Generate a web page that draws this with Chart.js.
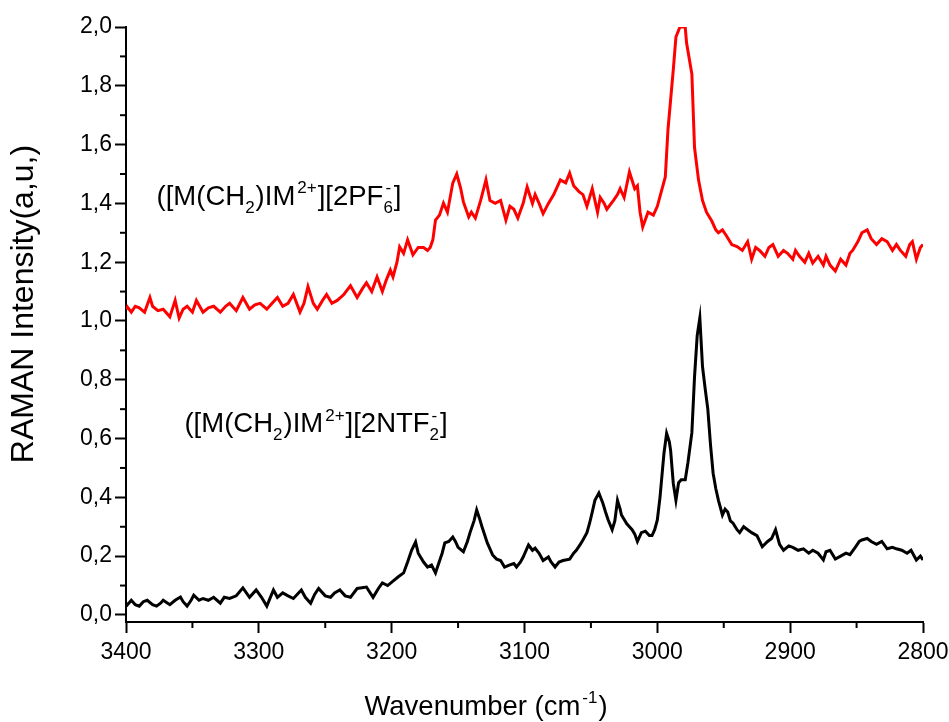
<!DOCTYPE html>
<html>
<head>
<meta charset="utf-8">
<script src="https://cdn.jsdelivr.net/npm/chart.js@4.4.0/dist/chart.umd.min.js"></script>
<style>
body { margin: 0; background: #fff; }
#wrap { width: 949px; height: 722px; position: relative; }
</style>
</head>
<body>
<div id="wrap"><canvas id="raman"></canvas></div>
<script>
// red spectrum: [2PF6-] salt
const redWn = [3400,3399,3396,3393,3390,3386,3382,3380,3376,3372,3367,3363,3360,3357,3354,3350,3347,3342,3338,3334,
  3329,3325,3322,3317,3312,3307,3303,3299,3294,3290,3286,3282,3278,3274,3269,3266,3263,3259,3256,3252,
  3249,3245,3241,3236,3231,3226,3222,3219,3215,3211,3207,3204,3201,3199,3196,3194,3191,3188,3184,3180,
  3176,3173,3171,3169,3167,3164,3161,3158,3154,3151,3148,3146,3142,3140,3137,3133,3129,3126,3122,3118,
  3114,3111,3108,3105,3101,3098,3094,3092,3089,3086,3082,3078,3073,3069,3066,3063,3059,3056,3053,3049,
  3045,3043,3040,3038,3033,3030,3028,3025,3021,3017,3015,3013,3011,3007,3003,3000,2997,2994,2992,2988,
  2986,2983,2979,2978,2974,2972,2969,2966,2963,2959,2956,2954,2951,2948,2944,2940,2936,2932,2929,2926,
  2923,2919,2916,2913,2909,2905,2902,2898,2896,2893,2889,2886,2883,2879,2875,2873,2870,2866,2862,2858,
  2855,2853,2849,2846,2842,2839,2835,2831,2827,2823,2820,2817,2813,2810,2808,2805,2802,2800];
const redInt = [1.04,1.048,1.03,1.05,1.045,1.03,1.08,1.05,1.035,1.04,1.014,1.07,1.01,1.04,1.05,1.03,1.07,1.03,1.045,1.05,
  1.03,1.05,1.06,1.035,1.08,1.04,1.055,1.06,1.04,1.06,1.08,1.05,1.06,1.09,1.03,1.06,1.117,1.06,1.04,1.07,
  1.09,1.06,1.07,1.09,1.12,1.08,1.11,1.13,1.10,1.15,1.10,1.14,1.173,1.15,1.20,1.252,1.23,1.276,1.225,1.25,
  1.25,1.24,1.25,1.276,1.343,1.36,1.401,1.37,1.469,1.50,1.45,1.405,1.354,1.37,1.35,1.41,1.48,1.41,1.40,1.41,
  1.343,1.39,1.38,1.35,1.40,1.456,1.40,1.43,1.40,1.365,1.40,1.43,1.48,1.47,1.503,1.46,1.44,1.43,1.39,1.45,
  1.37,1.42,1.40,1.38,1.41,1.43,1.45,1.42,1.507,1.45,1.46,1.37,1.32,1.37,1.36,1.39,1.44,1.49,1.65,1.854,
  1.966,2.0,2.0,1.946,1.84,1.59,1.48,1.41,1.37,1.34,1.31,1.30,1.31,1.29,1.26,1.253,1.24,1.27,1.21,1.25,
  1.24,1.22,1.25,1.26,1.22,1.24,1.23,1.21,1.24,1.22,1.20,1.23,1.197,1.22,1.19,1.22,1.19,1.17,1.21,1.19,
  1.23,1.24,1.27,1.30,1.31,1.28,1.26,1.28,1.27,1.24,1.26,1.24,1.22,1.26,1.27,1.21,1.25,1.26];

// black spectrum: [2NTF2-] salt
const blackWn = [3400,3399,3396,3393,3390,3387,3384,3380,3377,3374,3372,3367,3363,3359,3357,3354,3351,3349,3345,3342,
  3338,3334,3329,3326,3322,3317,3312,3307,3302,3298,3294,3289,3286,3282,3278,3274,3268,3265,3261,3258,
  3255,3250,3246,3243,3239,3235,3231,3226,3219,3214,3210,3207,3203,3199,3195,3191,3188,3185,3182,3180,
  3176,3173,3170,3167,3165,3162,3160,3157,3154,3152,3150,3146,3143,3141,3138,3136,3134,3132,3128,3124,
  3121,3118,3115,3111,3108,3106,3103,3101,3097,3094,3092,3089,3086,3082,3080,3077,3074,3071,3066,3063,
  3061,3058,3056,3053,3051,3049,3047,3044,3041,3039,3037,3034,3032,3030,3028,3027,3023,3019,3017,3015,
  3012,3009,3006,3004,3002,3000,2998,2996,2995,2993,2991,2990,2988,2986,2984,2982,2979,2977,2974,2972,
  2970,2968,2966,2964,2962,2960,2958,2956,2954,2951,2949,2947,2945,2943,2940,2938,2935,2932,2929,2925,
  2921,2917,2914,2911,2908,2905,2901,2898,2894,2890,2886,2883,2879,2875,2873,2870,2866,2862,2858,2855,
  2851,2848,2846,2842,2839,2835,2831,2827,2823,2820,2816,2812,2809,2805,2802,2800];
const blackInt = [0.04,0.034,0.05,0.035,0.03,0.045,0.05,0.035,0.03,0.04,0.05,0.035,0.05,0.061,0.045,0.03,0.05,0.067,0.05,0.056,
  0.05,0.06,0.04,0.06,0.056,0.065,0.092,0.06,0.085,0.06,0.03,0.085,0.06,0.075,0.065,0.056,0.085,0.06,0.04,0.07,
  0.09,0.065,0.06,0.075,0.085,0.065,0.06,0.09,0.095,0.06,0.09,0.109,0.10,0.115,0.13,0.143,0.18,0.22,0.248,0.21,
  0.18,0.163,0.17,0.143,0.17,0.21,0.245,0.25,0.265,0.25,0.23,0.215,0.25,0.28,0.32,0.357,0.33,0.30,0.245,0.204,
  0.19,0.185,0.163,0.17,0.175,0.163,0.18,0.197,0.238,0.22,0.227,0.21,0.185,0.197,0.18,0.163,0.18,0.185,0.19,0.21,
  0.22,0.24,0.255,0.28,0.312,0.35,0.39,0.415,0.38,0.35,0.323,0.29,0.32,0.39,0.36,0.34,0.31,0.29,0.275,0.25,
  0.28,0.285,0.27,0.27,0.29,0.323,0.40,0.50,0.55,0.618,0.59,0.56,0.448,0.39,0.45,0.46,0.46,0.517,0.62,0.81,
  0.95,1.01,0.845,0.77,0.70,0.58,0.482,0.43,0.39,0.34,0.36,0.35,0.32,0.312,0.29,0.28,0.30,0.29,0.28,0.27,
  0.232,0.25,0.26,0.29,0.24,0.22,0.235,0.23,0.22,0.225,0.21,0.22,0.21,0.187,0.215,0.22,0.19,0.20,0.21,0.205,
  0.23,0.25,0.255,0.26,0.25,0.24,0.25,0.225,0.23,0.225,0.22,0.21,0.22,0.187,0.20,0.187];

const xTicks = [3400, 3300, 3200, 3100, 3000, 2900, 2800];
const xMinor = [3350, 3250, 3150, 3050, 2950, 2850];
const yTicks = [0, 0.2, 0.4, 0.6, 0.8, 1.0, 1.2, 1.4, 1.6, 1.8, 2.0];
const yTickLabels = ['0,0', '0,2', '0,4', '0,6', '0,8', '1,0', '1,2', '1,4', '1,6', '1,8', '2,0'];
const yMinor = [0.1, 0.3, 0.5, 0.7, 0.9, 1.1, 1.3, 1.5, 1.7, 1.9];

// curve labels, split into plain / subscript / superscript parts
const redLabel = [{t: '([M(CH'}, {sub: '2'}, {t: ')IM'}, {sup: '2+'}, {t: '][2PF'}, {sub: '6', sup: '-'}, {t: ']'}];
const blackLabel = [{t: '([M(CH'}, {sub: '2'}, {t: ')IM'}, {sup: '2+'}, {t: '][2NTF'}, {sub: '2', sup: '-'}, {t: ']'}];
const labelAt = [[3377, 1.395, redLabel], [3356, 0.622, blackLabel]];

const FONT = "'Liberation Sans', Arial, sans-serif";

function drawRich(ctx, parts, x, y, size) {
  const small = Math.round(size * 0.62);
  for (const p of parts) {
    if (p.t) {
      ctx.font = size + 'px ' + FONT;
      ctx.fillText(p.t, x, y);
      x += ctx.measureText(p.t).width;
    } else {
      ctx.font = small + 'px ' + FONT;
      let w = 0;
      if (p.sub) { ctx.fillText(p.sub, x, y + size * 0.28); w = ctx.measureText(p.sub).width; }
      if (p.sup) { ctx.fillText(p.sup, x + 2, y - size * 0.42); w = Math.max(w, ctx.measureText(p.sup).width + 2); }
      x += w + 1;
    }
  }
  return x;
}

function richWidth(ctx, parts, size) {
  let w = 0;
  const small = Math.round(size * 0.62);
  for (const p of parts) {
    if (p.t) { ctx.font = size + 'px ' + FONT; w += ctx.measureText(p.t).width; }
    else {
      ctx.font = small + 'px ' + FONT;
      let a = p.sub ? ctx.measureText(p.sub).width : 0;
      let b = p.sup ? ctx.measureText(p.sup).width + 2 : 0;
      w += Math.max(a, b) + 1;
    }
  }
  return w;
}

const extras = {
  id: 'extras',
  afterDraw(chart) {
    const ctx = chart.ctx;
    const xs = chart.scales.x, ys = chart.scales.y;
    const area = chart.chartArea;
    ctx.save();
    ctx.strokeStyle = '#000';
    ctx.lineWidth = 2;
    // minor ticks
    for (const v of xMinor) {
      const px = xs.getPixelForValue(v);
      ctx.beginPath(); ctx.moveTo(px, area.bottom); ctx.lineTo(px, area.bottom + 6); ctx.stroke();
    }
    for (const v of yMinor) {
      const py = ys.getPixelForValue(v);
      ctx.beginPath(); ctx.moveTo(area.left - 6, py); ctx.lineTo(area.left, py); ctx.stroke();
    }
    ctx.fillStyle = '#000';
    ctx.textBaseline = 'alphabetic';
    ctx.textAlign = 'left';
    // curve labels
    for (const [wn, v, parts] of labelAt) {
      drawRich(ctx, parts, xs.getPixelForValue(wn), ys.getPixelForValue(v), 27.5);
    }
    // x title
    const xTitle = [{t: 'Wavenumber (cm'}, {sup: '-1'}, {t: ')'}];
    const tw = richWidth(ctx, xTitle, 27.5);
    drawRich(ctx, xTitle, area.left + 360 - tw / 2, 715, 27.5);
    // y title
    ctx.translate(33, 304);
    ctx.rotate(-Math.PI / 2);
    ctx.font = '32px ' + FONT;
    ctx.textAlign = 'center';
    ctx.fillText('RAMAN Intensity(a,u,)', 0, 0);
    ctx.restore();
  }
};

const ctx = document.getElementById('raman').getContext('2d');
const ramanChart = new Chart(ctx, {
  type: 'line',
  data: {
    datasets: [{
      label: '[2PF6-]',
      data: redWn.map((w, i) => ({x: w, y: redInt[i]})),
      borderColor: '#ff0000',
      borderWidth: 3,
      pointRadius: 0,
      tension: 0
    }, {
      label: '[2NTF2-]',
      data: blackWn.map((w, i) => ({x: w, y: blackInt[i]})),
      borderColor: '#000000',
      borderWidth: 3,
      pointRadius: 0,
      tension: 0
    }]
  },
  options: {
    responsive: true,
    maintainAspectRatio: false,
    animation: false,
    layout: { padding: { top: 27, right: 26, bottom: 0, left: 0 }, autoPadding: false },
    plugins: { legend: { display: false }, tooltip: { enabled: false } },
    scales: {
      x: {
        type: 'linear',
        reverse: true,
        min: 2800,
        max: 3400,
        afterBuildTicks: s => { s.ticks = xTicks.map(v => ({value: v})); },
        afterFit: s => { s.height = 100; s.paddingLeft = 0; s.paddingRight = 0; },
        ticks: { color: '#000', font: { family: FONT, size: 23 }, padding: 6, maxRotation: 0,
                 callback: v => String(v) },
        grid: { drawOnChartArea: false, tickLength: 11, tickWidth: 2, tickColor: '#000' },
        border: { color: '#000', width: 2 }
      },
      y: {
        min: -0.024,
        max: 2.0,
        afterBuildTicks: s => { s.ticks = yTicks.map(v => ({value: v})); },
        afterFit: s => { s.width = 126; s.paddingTop = 0; s.paddingBottom = 0; },
        ticks: { color: '#000', font: { family: FONT, size: 23 }, padding: 3,
                 callback: (v, i) => yTickLabels[i] },
        grid: { drawOnChartArea: false, tickLength: 11, tickWidth: 2, tickColor: '#000' },
        border: { color: '#000', width: 2 }
      }
    }
  },
  plugins: [extras]
});
</script>
</body>
</html>
